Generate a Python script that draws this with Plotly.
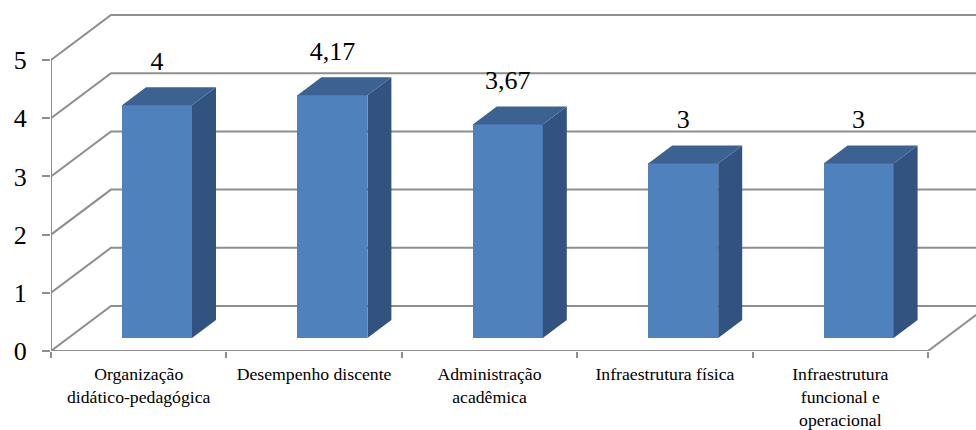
import plotly.graph_objects as go

categories = ["Organização<br>didático-pedagógica", "Desempenho discente",
              "Administração<br>acadêmica", "Infraestrutura física",
              "Infraestrutura<br>funcional e<br>operacional"]
values = [4, 4.17, 3.67, 3, 3]
value_labels = ["4", "4,17", "3,67", "3", "3"]
y_ticks = [0, 1, 2, 3, 4, 5]

# pseudo-3D projection, in axis units
PX_X, PX_Y = 175.4, 58.2
X_MAX, Y_MAX = 925 / PX_X, 351 / PX_Y
WALL_DX, WALL_DY = 60 / PX_X, 45 / PX_Y
BAR_DX, BAR_DY = 24 / PX_X, 18 / PX_Y
BAR_W = 70 / PX_X
BAR_BASE = 13 / PX_Y
BAR_OFF = 106 / PX_X
LABEL_UP = 42 / PX_Y

GRID = "#8e8e8e"
FRONT, SIDE, TOP = "#4f81bd", "#325380", "#3c6291"
FONT = "Liberation Serif"
n = len(categories)
fig = go.Figure()

def grid_line(xs, ys):
    fig.add_trace(go.Scatter(x=xs, y=ys, mode="lines", cliponaxis=False, hoverinfo="skip",
                             line=dict(color=GRID, width=2), showlegend=False))

# walls, floor and axis lines
for v in y_ticks:
    grid_line([0, WALL_DX, X_MAX], [v, v + WALL_DY, v + WALL_DY])
grid_line([0, 0], [y_ticks[0], y_ticks[-1]])
grid_line([0, n], [0, 0])
grid_line([n, n + WALL_DX], [0, WALL_DY])

# bars, on an overlaid subplot so that they sit above the grid
xc = [i + BAR_OFF for i in range(n)]
fig.add_trace(go.Bar(x=xc, y=values, base=BAR_BASE, width=BAR_W, marker=dict(color=FRONT, line_width=0),
                     xaxis="x2", yaxis="y2", showlegend=False))
for c, v in zip(xc, values):
    l, r = c - BAR_W / 2, c + BAR_W / 2
    b, t = BAR_BASE, BAR_BASE + v
    fig.add_trace(go.Scatter(x=[r, r + BAR_DX, r + BAR_DX, r, r], y=[b, b + BAR_DY, t + BAR_DY, t, b],
                             fill="toself", fillcolor=SIDE, mode="lines", line=dict(width=0),
                             xaxis="x2", yaxis="y2", showlegend=False, hoverinfo="skip"))
    fig.add_trace(go.Scatter(x=[l, r, r + BAR_DX, l + BAR_DX, l], y=[t, t, t + BAR_DY, t + BAR_DY, t],
                             fill="toself", fillcolor=TOP, mode="lines", line=dict(width=0),
                             xaxis="x2", yaxis="y2", showlegend=False, hoverinfo="skip"))

# value labels
fig.add_trace(go.Scatter(x=xc, y=[BAR_BASE + v + LABEL_UP for v in values], text=value_labels,
                         mode="text", textposition="middle center", cliponaxis=False,
                         textfont=dict(family=FONT, size=26, color="#000000"),
                         xaxis="x2", yaxis="y2", showlegend=False, hoverinfo="skip"))

fig.update_layout(
    width=976, height=430, autosize=False,
    margin=dict(l=51, r=0, t=0, b=79, pad=0),
    paper_bgcolor="white", plot_bgcolor="white", showlegend=False,
    bargap=0,
    xaxis=dict(range=[0, X_MAX], tickmode="array", tickvals=[i + 0.5 for i in range(n)], ticktext=categories,
               ticks="", showgrid=False, zeroline=False, showline=False, ticklabelstandoff=10,
               tickangle=0, tickfont=dict(family=FONT, size=17.7, color="#000000"),
               minor=dict(tickmode="array", tickvals=list(range(n + 1)), ticks="outside", ticklen=6,
                          tickwidth=2, tickcolor=GRID, showgrid=False)),
    yaxis=dict(range=[0, Y_MAX], tickmode="array", tickvals=y_ticks, ticktext=[str(v) for v in y_ticks],
               ticks="outside", ticklen=8, tickwidth=2, tickcolor=GRID, showgrid=False, zeroline=False,
               showline=False, ticklabelstandoff=10, tickfont=dict(family=FONT, size=26, color="#000000")),
    xaxis2=dict(range=[0, X_MAX], overlaying="x", visible=False),
    yaxis2=dict(range=[0, Y_MAX], overlaying="y", visible=False),
)
fig.write_html("out.html", config={"displayModeBar": False}, post_script="document.body.style.margin='0';")
